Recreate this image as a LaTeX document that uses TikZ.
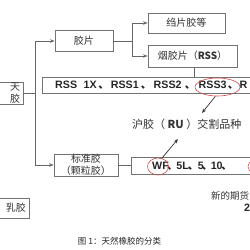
\documentclass[tikz,border=0pt]{standalone}
\usepackage{fontspec}
\setmainfont{Liberation Sans}
\newfontfamily\cjk{Noto Sans CJK SC}
\usetikzlibrary{arrows.meta,shapes.geometric}
\newcommand\dn[1]{\makebox[#1][c]{\cjk 、}}
\begin{document}
\begin{tikzpicture}[x=1pt,y=-1pt,
  box/.style={draw=black!55, line width=0.8pt, inner sep=0pt, text=black!80,
    font=\cjk\fontsize{10}{12}\selectfont, align=center},
  conn/.style={draw=black!60, line width=0.8pt},
  arr/.style={conn, -{Stealth[length=4.5pt,width=3.5pt]}},
  redarr/.style={draw=black!80, line width=0.7pt, -{Stealth[length=4.5pt,width=3.5pt]}},
  redring/.style={draw=red!75!black!70, line width=0.6pt, ellipse, inner sep=0pt},
  lat/.style={font=\bfseries\fontsize{10.7}{12}\selectfont, text=black!85, inner sep=0pt},
  cjktxt/.style={font=\cjk\fontsize{10.5}{12}\selectfont, text=black!80, inner sep=0pt}
]
\useasboundingbox (0,0) rectangle (250,250);
\clip (0,0) rectangle (250,250);
\fill[white] (0,0) rectangle (250,250);

% boxes
\node[box, minimum width=45pt, minimum height=22pt, text width=39pt, align=right] (tr) at (0.5,93) {天\\胶};
\node[box, minimum width=35pt, minimum height=20pt, text width=29pt, align=right] (rj) at (11.5,208) {乳胶};
\node[box, minimum width=58pt, minimum height=21pt] (jp) at (84,41) {胶片};
\node[box, minimum width=77pt, minimum height=20pt] (zp) at (186.5,23) {绉片胶等};
\node[box, minimum width=89pt, minimum height=22pt] (rss) at (192.5,56) {烟胶片（\textbf{RSS}）};
\node[box, minimum width=64pt, minimum height=22pt, font=\cjk\fontsize{10}{12}\selectfont] (bz) at (86,165) {标准胶\\（颗粒胶）};

\node[box, anchor=west, minimum width=230pt, minimum height=16pt] (rowa) at (42,85) {};
\node[lat, anchor=west] (rowatxt) at (55,85.5) {RSS\hspace{6.5pt}1X\dn{14pt}RSS1\dn{15pt}RSS2\dn{17pt}RSS3\dn{13pt}R};

\node[box, anchor=west, minimum width=140pt, minimum height=17pt] (rowb) at (131,165.5) {};
\node[lat, anchor=west] (rowbtxt) at (152,166) {WF\dn{7.5pt}5L\dn{9pt}5\dn{7pt}10\dn{8pt}};

% red rings
\node[redring, minimum width=45pt, minimum height=18pt] (e1) at (217.5,87) {};
\node[redring, minimum width=21pt, minimum height=17pt] (e2) at (158,166.5) {};
\node[redring, minimum width=28pt, minimum height=17pt] (e3) at (262,166.5) {};

% texts
\node[cjktxt, anchor=west, font=\cjk\fontsize{11}{12}\selectfont] (ru) at (132,124) {沪胶（ \textbf{RU} ）交割品种};
\node[cjktxt, anchor=west, font=\cjk\fontsize{9.5}{12}\selectfont] (new1) at (211,196) {新的期货};
\node[lat, anchor=west] (new2) at (244,207.5) {2};
\node[cjktxt, font=\cjk\fontsize{8.5}{10}\selectfont, text=black!85] (cap) at (119.5,241) {图 1：天然橡胶的分类};

% connectors
\coordinate (vtop) at (35,41);
\coordinate (vmid) at (35,93);
\coordinate (vbot) at (35,165);
\draw[conn] (tr.east) -- (vmid);
\draw[conn] (vtop) -- (vbot);
\draw[arr] (vtop) -- (jp.west);
\draw[arr] (vbot) -- (bz.west);

\coordinate (jv) at (132,41);
\coordinate (jvt) at (132,23);
\coordinate (jvb) at (132,56);
\draw[conn] (jp.east) -- (jv);
\draw[conn] (jvt) -- (jvb);
\draw[arr] (jvt) -- (zp.west);
\draw[arr] (jvb) -- (rss.west);

\draw[conn] (rss.south -| 194,0) -- (rowa.north -| 194,0);
\draw[conn] (bz.east) -- (rowb.west |- bz.east);

\coordinate (rutip) at (202,113);
\coordinate (wftip) at (178,139);
\draw[redarr] (e1.257) -- (rutip);
\draw[redarr] (e2.65) -- (wftip);
\end{tikzpicture}
\end{document}
